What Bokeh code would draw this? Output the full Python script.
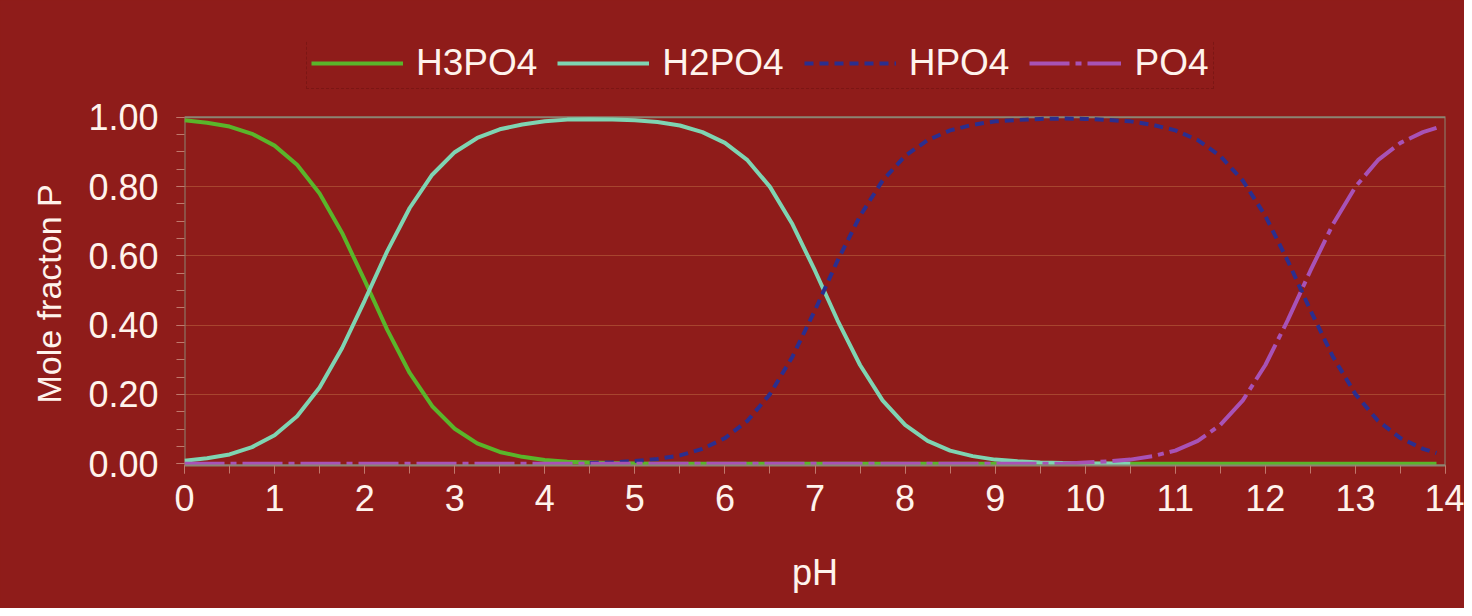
from bokeh.plotting import figure
from bokeh.models import Range1d, FixedTicker, Legend, LegendItem, NumeralTickFormatter, Title
from bokeh.embed import file_html
from bokeh.resources import INLINE

NaN = float("nan")

ph = [0.0, 0.25, 0.5, 0.75, 1.0, 1.25, 1.5, 1.75, 2.0, 2.25, 2.5, 2.75, 3.0, 3.25, 3.5, 3.75,
      4.0, 4.25, 4.5, 4.75, 5.0, 5.25, 5.5, 5.75, 6.0, 6.25, 6.5, 6.75, 7.0, 7.25, 7.5, 7.75,
      8.0, 8.25, 8.5, 8.75, 9.0, 9.25, 9.5, 9.75, 10.0, 10.25, 10.5, 10.75, 11.0, 11.25, 11.5, 11.75,
      12.0, 12.25, 12.5, 12.75, 13.0, 13.25, 13.5, 13.75, 13.9]

h3po4 = [0.991, 0.984, 0.973, 0.952, 0.918, 0.863, 0.780, 0.666, 0.529, 0.387, 0.262, 0.166,
         0.101, 0.059, 0.034, 0.020, 0.011, 0.006, 0.004, 0.002, 0.001,
         0, 0, 0, 0, 0, 0, 0, 0, 0, 0, 0, 0, 0, 0, 0, 0, 0, 0, 0, 0, 0, 0, 0, 0, 0, 0, 0, 0,
         0, 0, 0, 0, 0, 0, 0, 0]

h2po4 = [0.009, 0.016, 0.027, 0.048, 0.082, 0.137, 0.220, 0.334, 0.471, 0.613, 0.738, 0.834,
         0.899, 0.940, 0.965, 0.979, 0.988, 0.993, 0.994, 0.993, 0.991, 0.986, 0.976, 0.957,
         0.926, 0.876, 0.799, 0.691, 0.557, 0.414, 0.285, 0.183, 0.112, 0.066, 0.038, 0.022,
         0.012, 0.007, 0.004, 0.002, 0.001, 0.001, 0.0,
         NaN, NaN, NaN, NaN, NaN, NaN, NaN, NaN, NaN, NaN, NaN, NaN, NaN, NaN]

hpo4 = [NaN, NaN, NaN, NaN, NaN, NaN, NaN, NaN, NaN, NaN, NaN, NaN, NaN, NaN, NaN, NaN, NaN, NaN,
        0.002, 0.004, 0.008, 0.014, 0.024, 0.043, 0.074, 0.124, 0.201, 0.309, 0.443, 0.586,
        0.715, 0.817, 0.888, 0.934, 0.962, 0.978, 0.988, 0.992, 0.995, 0.996, 0.995, 0.992,
        0.988, 0.978, 0.962, 0.934, 0.888, 0.817, 0.715, 0.585, 0.443, 0.309, 0.201, 0.124,
        0.074, 0.043, 0.031]

po4 = [0, 0, 0, 0, 0, 0, 0, 0, 0, 0, 0, 0, 0, 0, 0, 0, 0, 0, 0, 0,
       0, 0, 0, 0, 0, 0, 0, 0, 0, 0, 0, 0, 0, 0, 0, 0, 0, 0, 0, 0,
       0.004, 0.007, 0.012, 0.022, 0.038, 0.066, 0.112, 0.183, 0.285, 0.415, 0.557, 0.691,
       0.799, 0.876, 0.926, 0.957, 0.969]

series_names = ["H3PO4", "H2PO4", "HPO4", "PO4"]
x_ticks = [0, 1, 2, 3, 4, 5, 6, 7, 8, 9, 10, 11, 12, 13, 14]
y_ticks = [0.0, 0.2, 0.4, 0.6, 0.8, 1.0]

BG = "#8F1C1A"
TXT = "#FFF3EC"
FONT = "Liberation Sans"
FRAME = "#8B8573"
COLORS = ["#5AB52A", "#7FD4B2", "#2B2E8E", "#A852B6"]
DASHES = ["solid", "solid", "9 6", "40 6 6 6"]

# the frame is extended upwards (above 1.0) so that the legend sits inside it
Y_TOP = 1.2213

p = figure(width=1464, height=608, output_backend="svg", toolbar_location=None,
           x_range=Range1d(0, 14), y_range=Range1d(-0.005, Y_TOP),
           min_border_left=184, min_border_right=19, min_border_top=40, min_border_bottom=143)
p.styles = {"background-color": BG}
p.background_fill_color = BG
p.border_fill_color = BG
p.outline_line_color = None

p.xgrid.visible = False
p.ygrid.ticker = FixedTicker(ticks=y_ticks[1:-1])
p.ygrid.grid_line_color = "#A8452F"
p.ygrid.grid_line_width = 1

# visible plot box (0..14, 0..1)
p.quad(left=[x_ticks[0]], right=[x_ticks[-1]], bottom=[-0.005], top=[y_ticks[-1]],
       fill_color=None, line_color=FRAME, line_width=2)

p.xaxis.ticker = FixedTicker(ticks=x_ticks, minor_ticks=[t / 2 for t in range(29)])
p.yaxis.ticker = FixedTicker(ticks=y_ticks, minor_ticks=[t / 20 for t in range(21)])
p.yaxis.formatter = NumeralTickFormatter(format="0.00")

for ax in (p.xaxis[0], p.yaxis[0]):
    ax.major_tick_in = 0
    ax.major_tick_out = 8
    ax.minor_tick_in = 0
    ax.minor_tick_out = 8
    ax.major_tick_line_color = "#C0786C"
    ax.minor_tick_line_color = "#C0786C"
    ax.major_label_text_font = FONT
    ax.major_label_text_font_size = "36px"
    ax.major_label_text_color = TXT
    ax.axis_label_text_font = FONT
    ax.axis_label_text_font_size = "36px"
    ax.axis_label_text_font_style = "normal"
    ax.axis_label_text_color = TXT

p.xaxis.axis_line_color = FRAME
p.xaxis.axis_line_width = 2
p.yaxis.axis_line_color = None
p.xaxis.axis_label = "pH"
p.xaxis.major_label_standoff = 11
p.yaxis.major_label_standoff = 18
p.xaxis.axis_label_standoff = 38

ytitle = Title(text="Mole fracton P", align="left", offset=62, standoff=35,
               text_font=FONT, text_font_size="34px", text_font_style="normal", text_color=TXT)
p.add_layout(ytitle, "left")

renderers = []
for vals, c, d in zip([h3po4, h2po4, hpo4, po4], COLORS, DASHES):
    renderers.append(p.line(ph, vals, line_color=c, line_width=4, line_dash=d))

legend = Legend(items=[LegendItem(label=n, renderers=[r]) for n, r in zip(series_names, renderers)],
                orientation="horizontal", location=(122, 376))
legend.label_text_font = FONT
legend.label_text_font_size = "37px"
legend.label_text_color = TXT
legend.glyph_width = 92
legend.glyph_height = 20
legend.label_standoff = 13
legend.spacing = 20
legend.padding = 4
legend.margin = 0
legend.background_fill_color = BG
legend.background_fill_alpha = 1.0
legend.border_line_color = "#6A1210"
legend.border_line_width = 1
legend.border_line_dash = "2 2"
p.add_layout(legend, "center")

open("out.html", "w").write(file_html(p, INLINE))
